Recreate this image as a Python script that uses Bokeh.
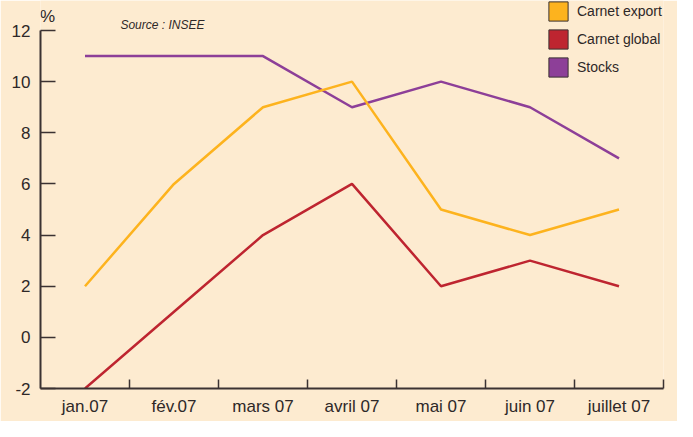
from bokeh.plotting import figure
from bokeh.models import FixedTicker, Range1d, Label, Legend, LegendItem, ColumnDataSource
from bokeh.embed import file_html
from bokeh.resources import INLINE

# ---- data ----
months = ["jan.07", "fév.07", "mars 07", "avril 07", "mai 07", "juin 07", "juillet 07"]
carnet_export = [2, 6, 9, 10, 5, 4, 5]
carnet_global = [-2, 1, 4, 6, 2, 3, 2]
stocks = [11, 11, 11, 9, 10, 9, 7]
y_ticks = [-2, 0, 2, 4, 6, 8, 10, 12]
series_names = ["Carnet export", "Carnet global", "Stocks"]

# ---- styles ----
BG = "#fdebd0"
AX = "#3b3232"
TXT = "#2e2828"
ORANGE = "#fdb31e"
RED = "#be2530"
PURPLE = "#8d3f98"
FONT = "Liberation Sans"

W, H = 677, 421
left_px, right_px = 40, 663.5
top_px, bottom_px = 30, 388
ppu_y = (bottom_px - top_px) / 14.0
ppu_x = (right_px - left_px) / 7.0
ytop = 12 + top_px / ppu_y

xs = list(range(len(months)))

p = figure(width=W, height=H, output_backend="svg", toolbar_location=None,
           x_range=Range1d(-0.5, len(months) - 0.5), y_range=Range1d(-2, ytop),
           min_border_left=left_px, min_border_right=int(round(W - right_px)),
           min_border_top=0, min_border_bottom=H - bottom_px)
p.background_fill_color = BG
p.border_fill_color = BG
p.outline_line_color = None
p.grid.visible = False

# x axis
xa = p.xaxis[0]
xa.ticker = FixedTicker(ticks=xs, minor_ticks=[i + 0.5 for i in xs])
xa.major_label_overrides = {i: m for i, m in enumerate(months)}
xa.major_tick_in = 0
xa.major_tick_out = 0
xa.minor_tick_in = 9
xa.minor_tick_out = 0
xa.minor_tick_line_color = AX
xa.minor_tick_line_width = 1.5
xa.axis_line_color = AX
xa.axis_line_width = 2
xa.major_label_text_font = FONT
xa.major_label_text_font_size = "17px"
xa.major_label_text_color = TXT
xa.major_label_standoff = 8

# y axis
ya = p.yaxis[0]
ya.ticker = FixedTicker(ticks=y_ticks)
ya.bounds = (-2, 12)
ya.major_label_overrides = {t: str(t) for t in y_ticks}
ya.major_tick_in = 15
ya.major_tick_out = 0
ya.major_tick_line_color = AX
ya.major_tick_line_width = 1.5
ya.minor_tick_line_color = None
ya.axis_line_color = AX
ya.axis_line_width = 2
ya.major_label_text_font = FONT
ya.major_label_text_font_size = "17px"
ya.major_label_text_color = TXT
ya.major_label_standoff = 10

# lines
p.line(xs, stocks, line_color=PURPLE, line_width=2.5)
p.line(xs, carnet_export, line_color=ORANGE, line_width=2.5)
p.line(xs, carnet_global, line_color=RED, line_width=2.5)

# legend with square swatches (dummy renderers with no drawable coordinates)
nan = float("nan")
items = []
for name, col in zip(series_names, [ORANGE, RED, PURPLE]):
    src = ColumnDataSource(dict(l=[nan], r=[nan], t=[nan], b=[nan]))
    r = p.quad(left="l", right="r", top="t", bottom="b", source=src,
               fill_color=col, line_color=AX, line_width=1)
    items.append(LegendItem(label=name, renderers=[r]))

legend = Legend(items=items, location=(506, 309), padding=0, margin=0,
                spacing=4, glyph_width=24, glyph_height=24, label_standoff=7,
                border_line_color=None, background_fill_alpha=0,
                label_text_font=FONT, label_text_font_size="14px",
                label_text_color=TXT)
p.add_layout(legend)

# texts
p.add_layout(Label(x=-0.5 + (47 - left_px) / ppu_x, y=12 + (top_px - 16.4) / ppu_y,
                   text="%", text_align="center", text_baseline="middle",
                   text_font=FONT, text_font_size="17px", text_color=TXT))
p.add_layout(Label(x=-0.5 + (162 - left_px) / ppu_x, y=12 + (top_px - 24) / ppu_y,
                   text="Source : INSEE", text_align="center", text_baseline="middle",
                   text_font=FONT, text_font_style="italic",
                   text_font_size="12px", text_color=TXT))

open("out.html", "w").write(file_html(p, INLINE))
